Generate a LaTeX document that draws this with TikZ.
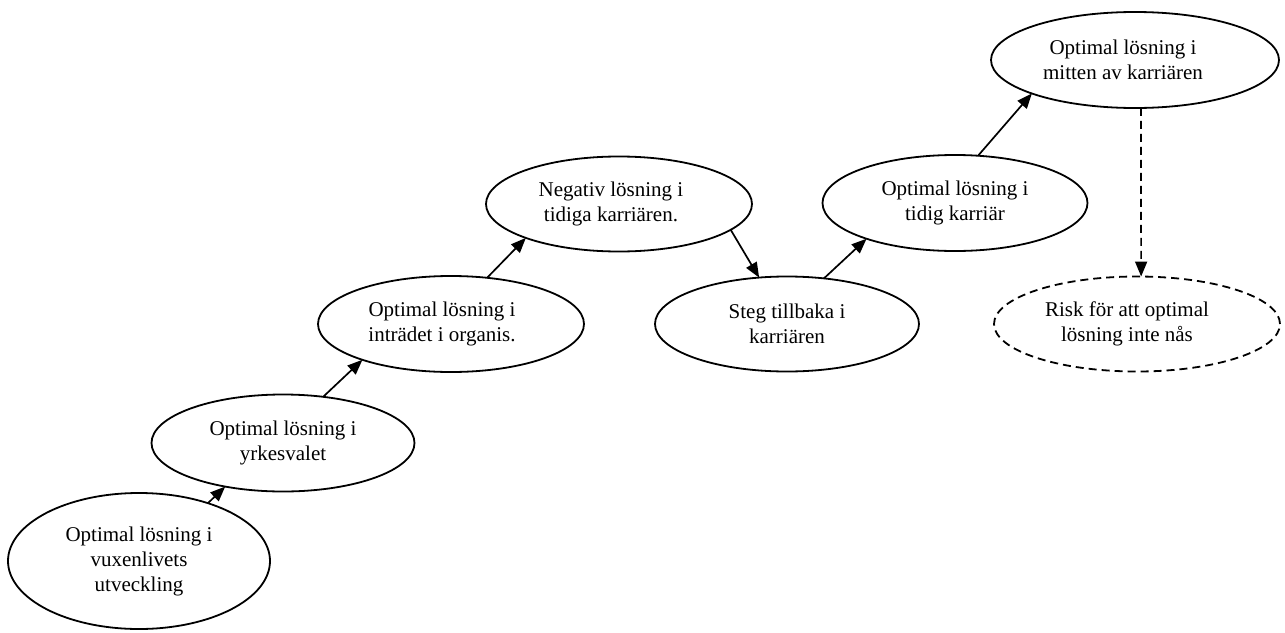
\documentclass[tikz,border=0pt]{standalone}
\usepackage{fontspec}
\setmainfont{Liberation Serif}
\usetikzlibrary{arrows.meta,shapes.geometric}
\tikzset{
  oval/.style={ellipse, draw, line width=1.8pt, inner sep=0pt, outer sep=0pt,
    font=\fontsize{21}{25}\selectfont, align=center},
  dashoval/.style={oval, dash pattern=on 8pt off 5pt},
  link/.style={line width=1.7pt, -{Triangle[length=15pt,width=12pt]}},
  dashlink/.style={link, dash pattern=on 8pt off 5pt},
}
\begin{document}
\begin{tikzpicture}[x=1pt,y=-1pt]
\useasboundingbox (0,0) rectangle (1285,632);
\node[oval, minimum width=262pt, minimum height=136pt] (e1) at (139,561)
  {Optimal lösning i\\vuxenlivets\\utveckling};
\node[oval, minimum width=263pt, minimum height=97pt] (e2) at (283,443)
  {Optimal lösning i\\yrkesvalet};
\node[oval, minimum width=266pt, minimum height=96pt] (e3) at (451,324)
  {\hspace*{-18pt}Optimal lösning i\\\hspace*{-18pt}inträdet i organis.};
\node[oval, minimum width=266pt, minimum height=95pt] (e4) at (619,204)
  {\hspace*{-16pt}Negativ lösning i\\\hspace*{-16pt}tidiga karriären.};
\node[oval, minimum width=264pt, minimum height=95pt] (e5) at (787,324)
  {Steg tillbaka i\\karriären};
\node[oval, minimum width=265pt, minimum height=96pt] (e6) at (955,203)
  {Optimal lösning i\\tidig karriär};
\node[oval, minimum width=288pt, minimum height=96pt] (e7) at (1135,60)
  {\hspace*{-24pt}Optimal lösning i\\\hspace*{-24pt}mitten av karriären};
\node[dashoval, minimum width=286pt, minimum height=95pt] (e8) at (1137,324)
  {\hspace*{-20pt}Risk för att optimal\\\hspace*{-20pt}lösning inte nås};
\draw[link] (e1.40) -- (e2.217);
\draw[link] (e2.49) -- (e3.202);
\draw[link] (e3.52) -- (e4.200);
\draw[link] (e4.347) -- (e5.121);
\draw[link] (e5.51) -- (e6.202);
\draw[link] (e6.64) -- (e7.198);
\draw[dashlink] (e7.277) -- (e8.85);
\end{tikzpicture}
\end{document}
